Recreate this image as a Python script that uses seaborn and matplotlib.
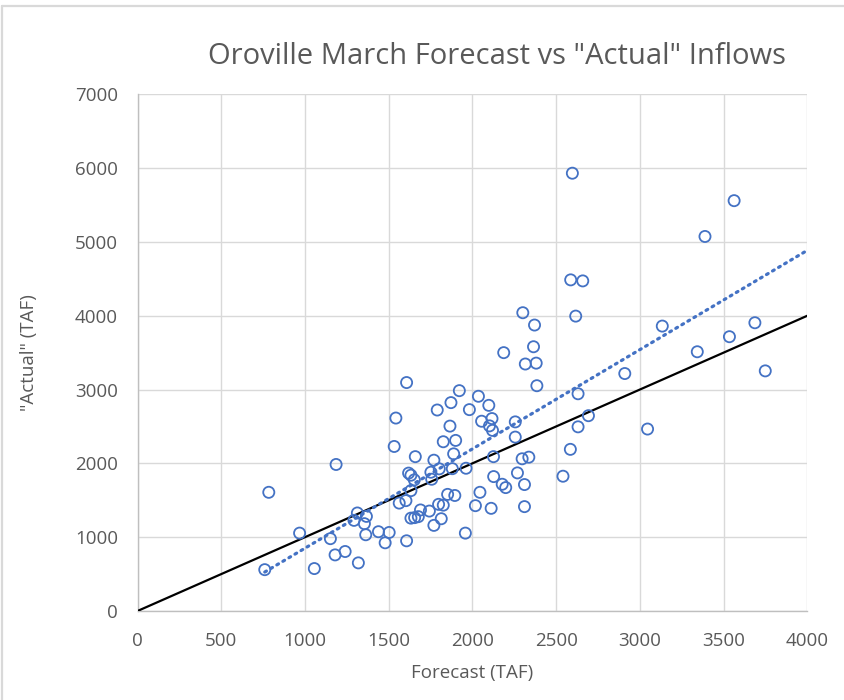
import numpy as np
import pandas as pd
import matplotlib
matplotlib.use("Agg")
import matplotlib.pyplot as plt
from matplotlib.lines import Line2D
import seaborn as sns

# ---- data ----
forecast = [760, 784, 968, 1056, 1152, 1186, 1180, 1240, 1319, 1313,
            1293, 1367, 1355, 1363, 1439, 1479, 1503, 1533, 1543, 1607,
            1607, 1563, 1603, 1633, 1619, 1633, 1653, 1659, 1633, 1655,
            1677, 1690, 1743, 1752, 1757, 1770, 1770, 1790, 1802, 1798,
            1826, 1814, 1826, 1852, 1866, 1872, 1880, 1888, 1895, 1900,
            1922, 1958, 1962, 1982, 2018, 2036, 2045, 2055, 2098, 2102,
            2112, 2117, 2120, 2126, 2127, 2178, 2199, 2187, 2256, 2256,
            2269, 2297, 2301, 2311, 2311, 2316, 2337, 2365, 2371, 2381,
            2385, 2541, 2585, 2587, 2597, 2617, 2631, 2631, 2659, 2693,
            2910, 3046, 3134, 3343, 3389, 3535, 3563, 3687, 3749]
actual = [560, 1608, 1055, 575, 980, 1985, 760, 806, 652, 1328,
          1228, 1282, 1183, 1033, 1074, 924, 1064, 2229, 2614, 3095,
          951, 1462, 1495, 1631, 1868, 1840, 1777, 2091, 1258, 1265,
          1278, 1369, 1354, 1880, 1785, 2043, 1160, 2723, 1926, 1445,
          1434, 1250, 2293, 1580, 2505, 2823, 1928, 2129, 1565, 2311,
          2985, 1055, 1934, 2728, 1427, 2909, 1608, 2571, 2786, 2508,
          1391, 2607, 2447, 2091, 1821, 1717, 1672, 3500, 2562, 2356,
          1871, 2062, 4041, 1713, 1414, 3346, 2084, 3580, 3874, 3358,
          3052, 1826, 2190, 4486, 5931, 3995, 2495, 2943, 4472, 2646,
          3217, 2465, 3860, 3512, 5074, 3716, 5559, 3905, 3253]

title = 'Oroville March Forecast vs "Actual" Inflows'
x_label = "Forecast (TAF)"
y_label = '"Actual" (TAF)'
x_ticks = [0, 500, 1000, 1500, 2000, 2500, 3000, 3500, 4000]
y_ticks = [0, 1000, 2000, 3000, 4000, 5000, 6000, 7000]
one_to_one = [0, 4000]

df = pd.DataFrame({"Forecast": forecast, "Actual": actual})

sns.set_theme(style="white")
plt.rcParams["font.family"] = ["Open Sans", "DejaVu Sans"]

W, H = 844, 700
fig = plt.figure(figsize=(W / 100, H / 100), dpi=100)
ax = fig.add_axes([137.5 / W, 1 - 611 / H, (807.3 - 137.5) / W, (611 - 94.3) / H])

blue = "#4472C4"
grid_c = "#d9d9d9"
text_c = "#595959"

# 1:1 line
sns.lineplot(x=one_to_one, y=one_to_one, ax=ax, color="black", lw=1.6, zorder=3)

# linear trendline (from data, extended forward to 4000)
coef = np.polyfit(df["Forecast"], df["Actual"], 1)
tx = np.array([min(forecast), 4000])
ax.plot(tx, np.polyval(coef, tx), color=blue, lw=2.3,
        linestyle=(0, (0.6, 1.6)), dash_capstyle="round", zorder=4)

sns.scatterplot(data=df, x="Forecast", y="Actual", ax=ax, marker="o", s=64,
                zorder=5)
coll = ax.collections[-1]
coll.set_facecolor("none")
coll.set_edgecolor(blue)
coll.set_linewidth(1.3)

ax.set_xlim(0, 4000)
ax.set_ylim(0, 7000)
ax.set_xticks(x_ticks)
ax.set_yticks(y_ticks)
ax.grid(True, color=grid_c, lw=1.0)
ax.set_axisbelow(True)
for s in ["top", "right"]:
    ax.spines[s].set_visible(False)
for s in ["left", "bottom"]:
    ax.spines[s].set_color("#bfbfbf")
    ax.spines[s].set_linewidth(1.0)

ax.tick_params(axis="both", length=0, labelsize=13.5, labelcolor=text_c)
ax.tick_params(axis="y", pad=14)
ax.tick_params(axis="x", pad=15)

ax.set_xlabel(x_label, fontsize=13.5, color=text_c)
ax.set_ylabel(y_label, fontsize=13.5, color=text_c)
ax.xaxis.set_label_coords(0.5, (611 - 664) / 516.7)
ax.xaxis.label.set_va("top")
ax.yaxis.set_label_coords((38 - 137.5) / 669.8, 0.5)

fig.text(497 / W, 1 - 56 / H, title, ha="center", va="center",
         fontsize=21, color=text_c)

# chart-area border (left and top visible in reference)
fig.add_artist(Line2D([1.5 / W, 1.5 / W], [0, 1 - 6 / H], color=grid_c, lw=1.6,
                      transform=fig.transFigure))
fig.add_artist(Line2D([1.5 / W, 1], [1 - 6 / H, 1 - 6 / H], color=grid_c, lw=1.6,
                      transform=fig.transFigure))

fig.savefig("out.png", dpi=100, facecolor="white")
